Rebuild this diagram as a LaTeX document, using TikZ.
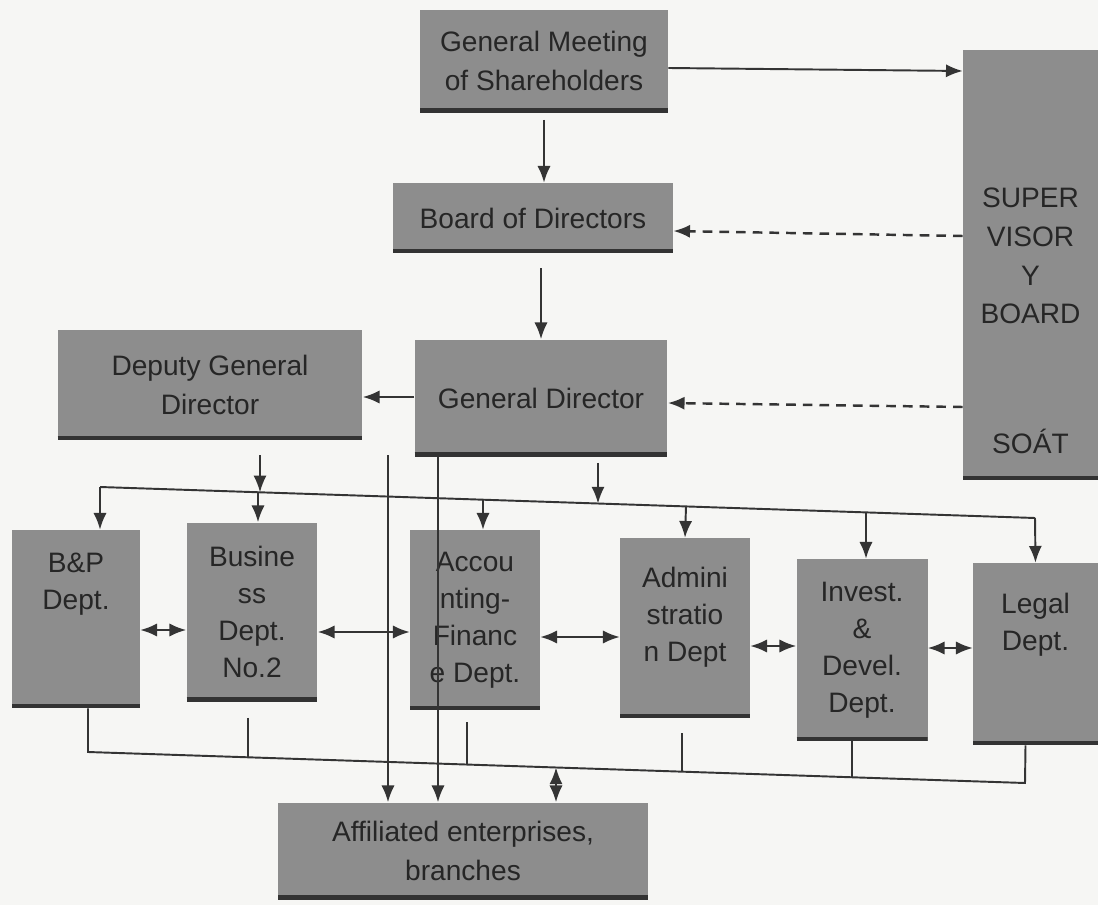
\documentclass[tikz,border=0pt]{standalone}
\usepackage{fontspec}
\setmainfont{Liberation Sans}
\usetikzlibrary{arrows.meta,calc}

\definecolor{boxgray}{RGB}{141,141,141}
\definecolor{inkgray}{RGB}{52,52,52}
\definecolor{paper}{RGB}{246,246,244}

% points on the two sloping bus lines (x in px)
\newcommand\topbus[1]{#1,{487+(#1-100)/935*31}}
\newcommand\botbus[1]{#1,{752+(#1-88)/937*31}}

\tikzset{
  box/.style={fill=boxgray, text=black!85, align=center, inner sep=0pt,
    font=\fontsize{16}{22}\selectfont,
    path picture={\draw[line width=5pt, black!80]
      (path picture bounding box.south west) -- (path picture bounding box.south east);}},
  dept/.style={box, font=\fontsize{16}{21}\selectfont},
  deptlabel/.style={font=\fontsize{16}{21}\selectfont, align=center, text=black!85},
  link/.style={draw=inkgray, line width=1.1pt, -{Latex[length=9.5pt,width=7.5pt]}},
  both/.style={link, {Latex[length=9.5pt,width=7.5pt]}-{Latex[length=9.5pt,width=7.5pt]}},
  watch/.style={link, line width=1.4pt, dash pattern=on 5.5pt off 4pt},
  plain/.style={draw=inkgray, line width=1.1pt},
}

\begin{document}
\begin{tikzpicture}[x=0.02cm, y=-0.02cm]
\fill[paper] (0,0) rectangle (1098,905);

% top part
\node[box, minimum width=4.96cm, minimum height=2.06cm] (gm) at (544,61) {General Meeting\\of Shareholders};
\node[box, minimum width=5.6cm, minimum height=1.4cm] (bod) at (533,218) {Board of Directors};
\node[box, minimum width=5.06cm, minimum height=2.34cm] (gd) at (541,398) {General Director};
\node[box, minimum width=6.1cm, minimum height=2.2cm] (dgd) at (210,385) {Deputy General\\Director};
\node[box, minimum width=2.7cm, minimum height=8.6cm,
  label={[deptlabel, font=\fontsize{16}{22}\selectfont, yshift=-1.12cm]center:{SUPER\\VISOR\\Y\\BOARD\\[1.82cm]SOÁT}}] (sb) at (1030.5,265) {};

% departments
\node[dept, minimum width=2.56cm, minimum height=3.56cm,
  label={[deptlabel, yshift=0.7cm]center:{B\&P\\Dept.}}] (bp) at (76,619) {};
\node[dept, minimum width=2.62cm, minimum height=3.58cm] (biz) at (252,612) {Busine\\ss\\Dept.\\No.2};
\node[dept, minimum width=2.6cm, minimum height=3.6cm] (acc) at (475,620) {Accou\\nting-\\Financ\\e Dept.};
\node[dept, minimum width=2.6cm, minimum height=3.6cm,
  label={[deptlabel, yshift=0.22cm]center:{Admini\\stratio\\n Dept}}] (adm) at (685,628) {};
\node[dept, minimum width=2.62cm, minimum height=3.64cm] (inv) at (862,650) {Invest.\\\&\\Devel.\\Dept.};
\node[dept, minimum width=2.5cm, minimum height=3.64cm,
  label={[deptlabel, yshift=0.58cm]center:{Legal\\Dept.}}] (leg) at (1035.5,654) {};

\node[box, minimum width=7.4cm, minimum height=1.94cm] (aff) at (463,851) {Affiliated enterprises,\\branches};

% control lines
\draw[link] (gm.east |- 0,68) -- (sb.west |- 0,71);
\draw[link] ($(gm.south)+(0,7)$) -- (bod.north -| gm.south);
\draw[link] ($(bod.south)+(8,15)$) -- (gd.north);
\draw[watch] (sb.west |- 0,236) -- (bod.east |- 0,231);
\draw[watch] (sb.west |- 0,407) -- (gd.east |- 0,403);
\draw[link] (gd.west |- 0,397) -- (dgd.east |- 0,397);

% top bus
\coordinate (busL) at (\topbus{100});
\coordinate (busR) at (\topbus{1035});
\draw[plain] (busL) -- (busR);
\draw[link] ($(dgd.south)+(50,15)$) -- (\topbus{260});
\draw[link] ($(gd.south)+(57,6)$) -- (\topbus{598});
\draw[link] (busL) -- (bp.north -| busL);
\draw[link] (\topbus{258}) -- ($(biz.north)+(6,0)$);
\draw[link] (\topbus{483}) -- ($(acc.north)+(8,0)$);
\draw[link] (\topbus{686}) -- (adm.north);
\draw[link] (\topbus{866}) -- ($(inv.north)+(4,0)$);
\draw[link] (busR) -- (leg.north);

% between departments
\draw[both] (bp.east |- 0,630) -- (biz.west |- 0,630);
\draw[both] (biz.east |- 0,632) -- (acc.west |- 0,632);
\draw[both] (acc.east |- 0,637) -- (adm.west |- 0,637);
\draw[both] (adm.east |- 0,646) -- (inv.west |- 0,646);
\draw[both] (inv.east |- 0,648) -- (leg.west |- 0,648);

% bottom bus
\coordinate (botL) at (\botbus{88});
\coordinate (botR) at (\botbus{1025});
\draw[plain] ($(bp.south)+(12,0)$) -- (botL) -- (botR) -- ($(leg.south)+(-10,0)$);
\draw[plain] ($(biz.south)+(-4,16)$) -- (\botbus{248});
\draw[plain] ($(acc.south)+(-8,12)$) -- (\botbus{467});
\draw[plain] ($(adm.south)+(-3,15)$) -- (\botbus{682});
\draw[plain] ($(inv.south)+(-10,0)$) -- (\botbus{852});
\draw[both] (\botbus{556}) -- ($(aff.north)+(93,0)$);

% direct lines to affiliates
\coordinate (tapA) at (388,455);
\draw[link] (tapA) -- (aff.north -| tapA);
\draw[link] ($(gd.south)+(-103,0)$) -- ($(aff.north)+(-25,0)$);
\end{tikzpicture}
\end{document}
